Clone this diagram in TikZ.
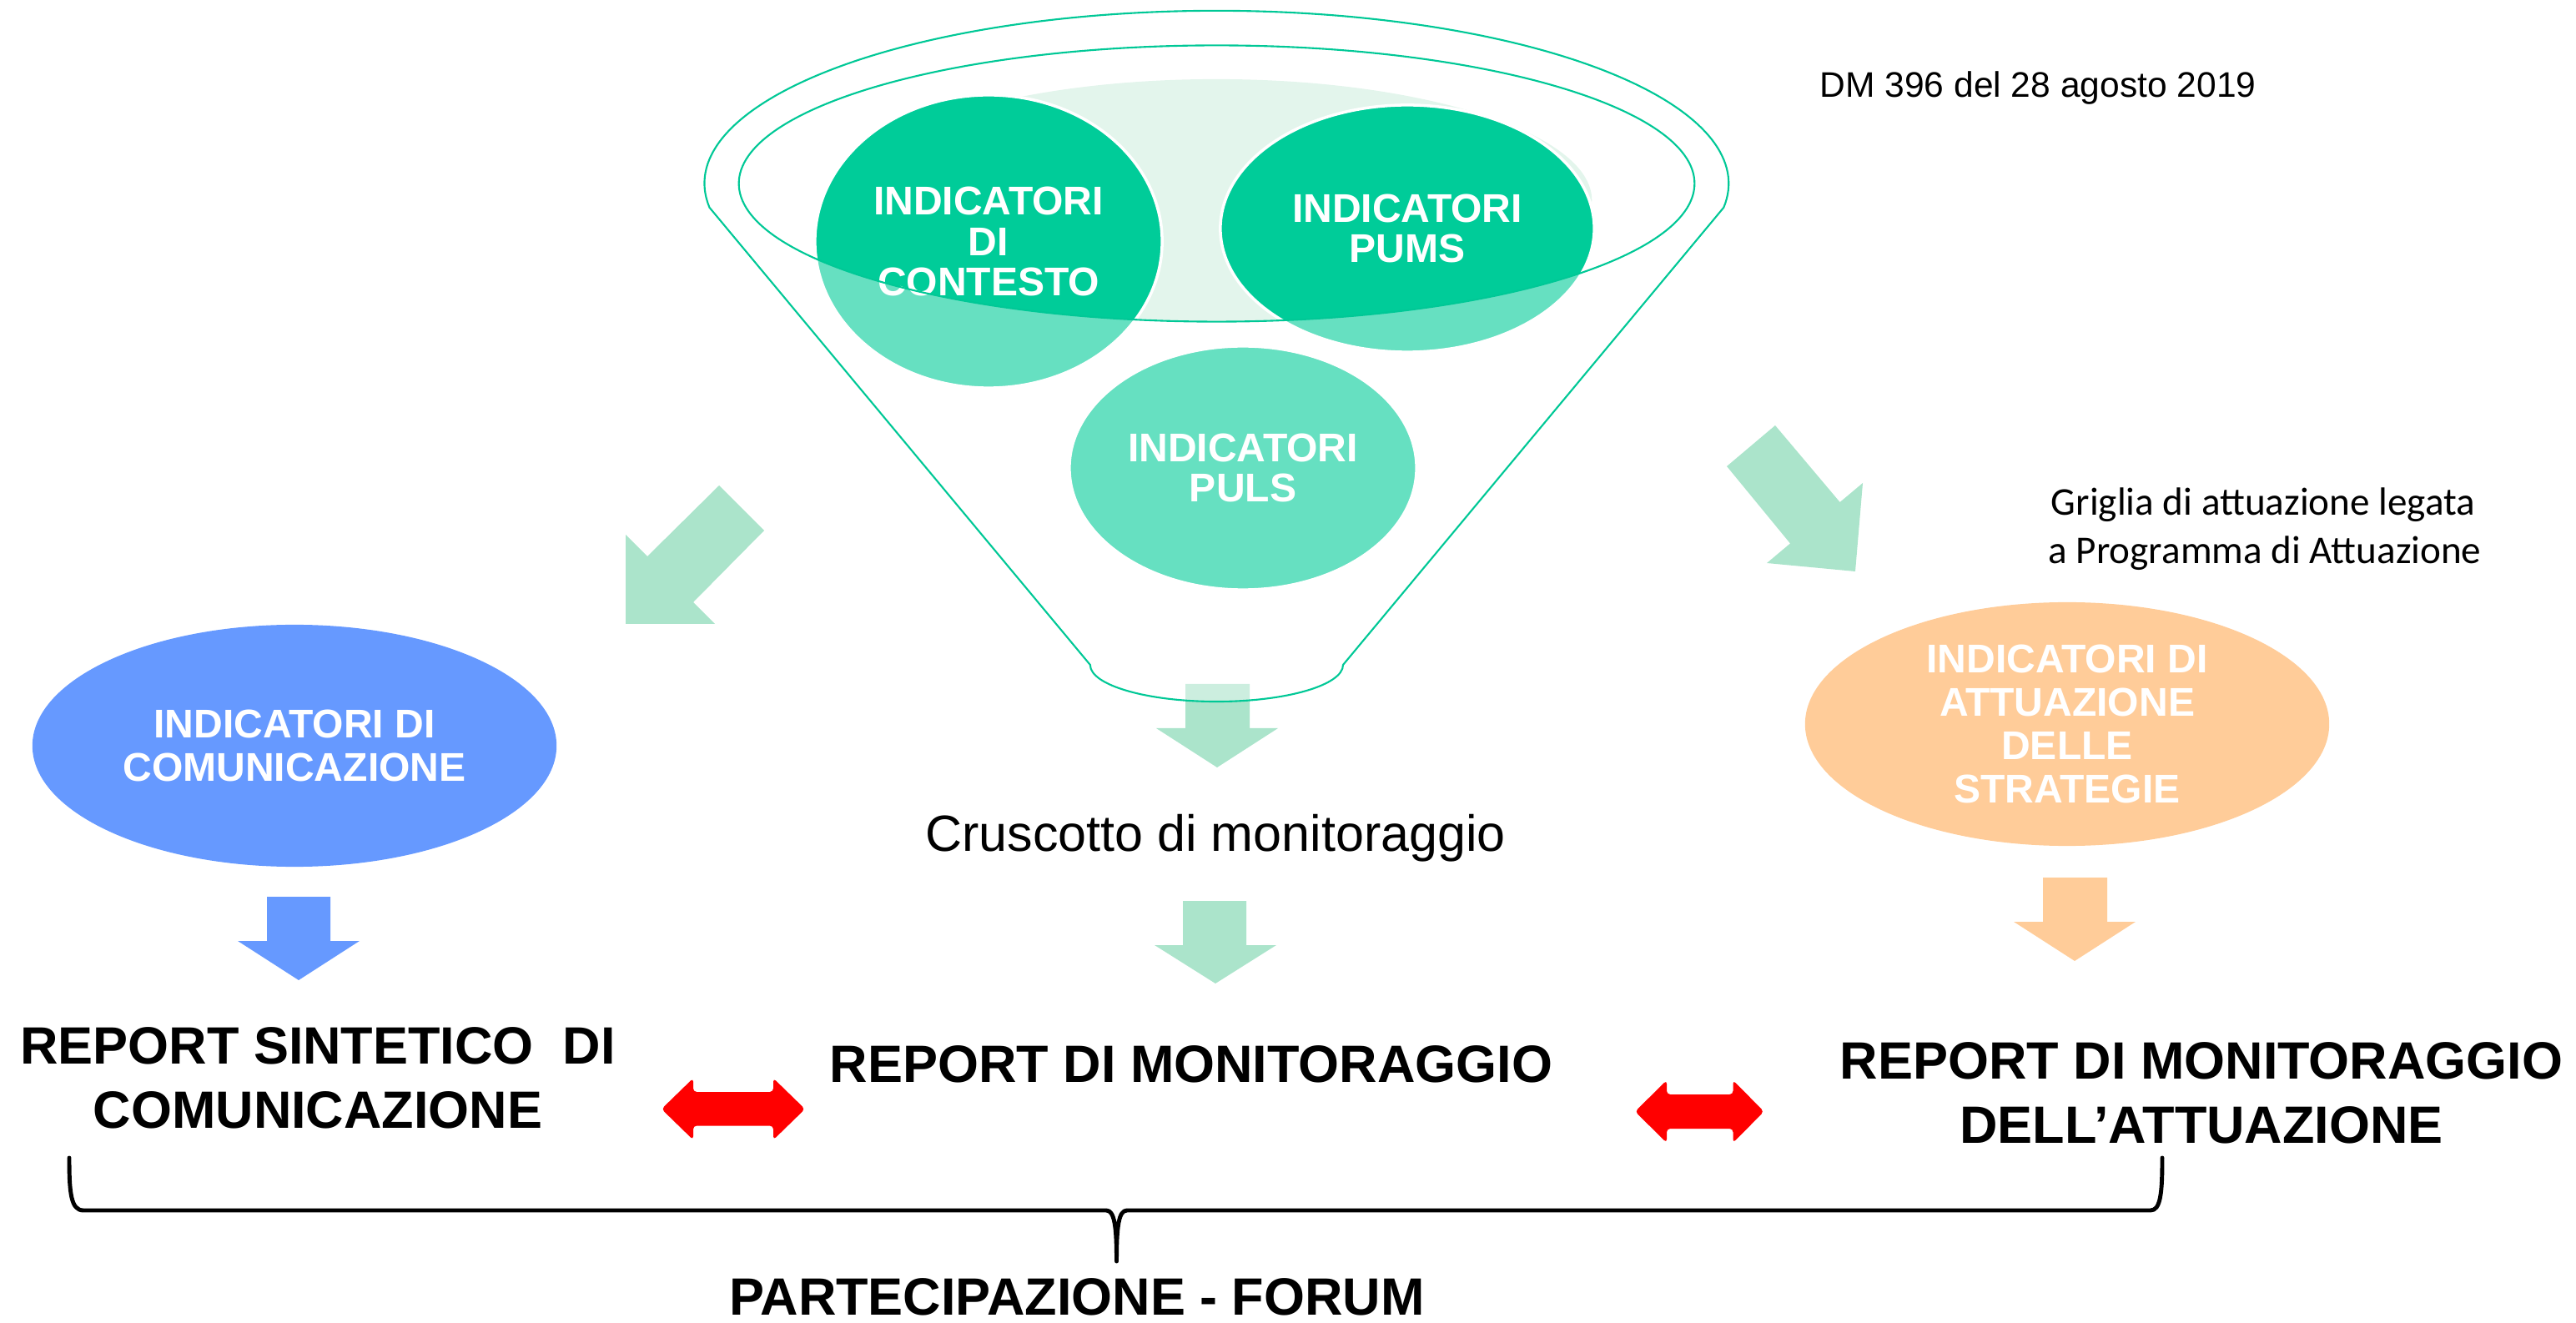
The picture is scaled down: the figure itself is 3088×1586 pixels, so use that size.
\documentclass[tikz,border=0pt]{standalone}
\usepackage{fontspec}
\setmainfont{Liberation Sans}
\newfontfamily\calibrifont{Carlito}
\usetikzlibrary{shapes.geometric}
\definecolor{tealfill}{HTML}{00CC99}
\definecolor{tealline}{HTML}{00C896}
\definecolor{arrowgreen}{HTML}{ABE4CB}
\definecolor{bglight}{HTML}{E3F5EC}
\definecolor{commblue}{HTML}{6699FF}
\definecolor{stratorange}{HTML}{FFCC99}
\begin{document}
\begin{tikzpicture}[x=0.01cm,y=-0.01cm,
  circ/.style={ellipse, draw=white, line width=1pt, fill=tealfill, text=white, align=center, inner sep=0pt,
    font=\fontsize{13.66}{13.9}\selectfont\bfseries},
  sidecirc/.style={ellipse, draw=none, text=white, align=center, inner sep=0pt, minimum width=6.28cm,
    font=\fontsize{13.66}{14.7}\selectfont\bfseries},
  bigtxt/.style={align=center, inner sep=0pt, font=\fontsize{17.9}{21.9}\selectfont\bfseries},
  funnelline/.style={draw=tealline, line width=0.6pt},
  dblarrow/.style={fill=red, rounded corners=1.2pt},
  bracepath/.style={draw=black, line width=1.4pt, line cap=round, line join=round},
  plaintxt/.style={anchor=base, inner sep=0pt}
]
\path[use as bounding box] (0,0) rectangle (3088,1586);

% light background inside the funnel mouth
\begin{scope}
  \clip (1458.5,220) ellipse [x radius=5.725cm, y radius=1.655cm];
  \fill[bglight] (1458,240) ellipse [x radius=4.5cm, y radius=1.45cm];
\end{scope}

% circles
\node[circ, minimum width=4.16cm, minimum height=3.51cm] (contesto) at (1185,289.5) {INDICATORI\\DI\\CONTESTO};
\node[circ, minimum width=4.48cm, minimum height=2.96cm] (pums) at (1687,274) {INDICATORI\\PUMS};
\node[circ, minimum width=4.16cm, minimum height=2.92cm] (puls) at (1490,561) {INDICATORI\\PULS};

% arrow out of the funnel (partly under the funnel)
\fill[arrowgreen] (1421,820) -- (1498,820) -- (1498,873) -- (1532,873) -- (1459,920) -- (1386,873) -- (1421,873) -- cycle;

% funnel: translucent white body with the mouth left open
\path[fill=white, fill opacity=0.4, even odd rule]
  (850.5,248.8) arc[start angle=188, end angle=-8, x radius=6.135cm, y radius=2.07cm]
  -- (1610,797) arc[start angle=0, end angle=-180, x radius=1.515cm, y radius=0.44cm] -- cycle
  (1458.5,220) ellipse [x radius=5.725cm, y radius=1.655cm];
\draw[funnelline]
  (850.5,248.8) arc[start angle=188, end angle=-8, x radius=6.135cm, y radius=2.07cm]
  -- (1610,797) arc[start angle=0, end angle=-180, x radius=1.515cm, y radius=0.44cm] -- cycle;
\draw[funnelline] (1458.5,220) ellipse [x radius=5.725cm, y radius=1.655cm];

% diagonal arrows
\fill[arrowgreen] (750,748) -- (750,641) -- (776,667) -- (862,582) -- (916,636) -- (831,722) -- (857,748) -- cycle;
\fill[arrowgreen] (2128,510) -- (2205.6,602) -- (2233,579) -- (2224,685) -- (2118,675) -- (2146,651.5) -- (2070,559) -- cycle;

% side ellipses
\node[sidecirc, fill=commblue, minimum height=2.9cm] (comm) at (353,894) {INDICATORI DI\\COMUNICAZIONE};
\node[sidecirc, fill=stratorange, minimum height=2.92cm] (strat) at (2478,868) {INDICATORI DI\\ATTUAZIONE\\DELLE\\STRATEGIE};

% texts
\node[plaintxt, font=\fontsize{12.1}{14}\selectfont] (dm) at (2443,117) {DM 396 del 28 agosto 2019};
\node[plaintxt, font=\calibrifont\fontsize{13.4}{16.5}\selectfont] (grig1) at (2713,617.6) {Griglia di attuazione legata};
\node[plaintxt, font=\calibrifont\fontsize{13.4}{16.5}\selectfont] (grig2) at (2715,675.7) {a Programma di Attuazione};
\node[plaintxt, font=\fontsize{17.36}{20}\selectfont] (crus) at (1457,1020) {Cruscotto di monitoraggio};

% down arrows
\fill[commblue] (320,1075) -- (396,1075) -- (396,1128) -- (431,1128) -- (358,1175) -- (285,1128) -- (320,1128) -- cycle;
\fill[arrowgreen] (1418,1080) -- (1494,1080) -- (1494,1133) -- (1530,1133) -- (1457,1179) -- (1384,1133) -- (1418,1133) -- cycle;
\fill[stratorange] (2449,1052) -- (2526,1052) -- (2526,1105) -- (2560,1105) -- (2487,1152) -- (2414,1105) -- (2449,1105) -- cycle;

% reports
\node[bigtxt] (rsc) at (381,1292.5) {REPORT SINTETICO~ DI\\COMUNICAZIONE};
\node[bigtxt] (rm) at (1428,1276) {REPORT DI MONITORAGGIO};
\node[bigtxt] (rma) at (2639,1310.5) {REPORT DI MONITORAGGIO\\DELL’ATTUAZIONE};

% red double arrows
\fill[dblarrow] (793,1329.5) -- (831,1292.5) -- (831,1309) -- (927,1309) -- (927,1292.5) -- (965,1329.5)
  -- (927,1366.5) -- (927,1349.5) -- (831,1349.5) -- (831,1366.5) -- cycle;
\fill[dblarrow] (1960,1332.5) -- (1998,1295) -- (1998,1312) -- (2077.5,1312) -- (2077.5,1295) -- (2114.5,1332.5)
  -- (2077.5,1370) -- (2077.5,1353) -- (1998,1353) -- (1998,1370) -- cycle;

% brace
\draw[bracepath] (83,1388) .. controls (83,1430) and (85,1451) .. (100,1451) -- (1326,1451)
  .. controls (1336,1451) and (1338.5,1470) .. (1338.5,1512)
  .. controls (1338.5,1470) and (1341,1451) .. (1351,1451) -- (2578,1451)
  .. controls (2590,1451) and (2592,1430) .. (2592,1388);

\node[bigtxt] (forum) at (1291,1555) {PARTECIPAZIONE - FORUM};
\end{tikzpicture}
\end{document}
